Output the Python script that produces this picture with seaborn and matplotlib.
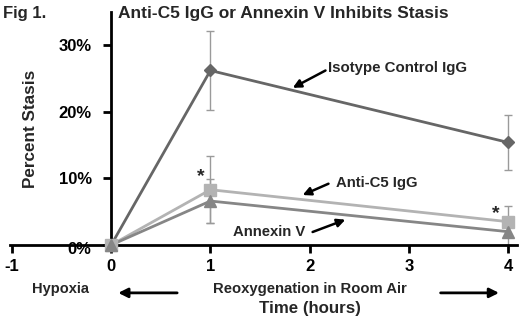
import pandas as pd
import matplotlib
matplotlib.use('Agg')
import matplotlib.pyplot as plt
import matplotlib.transforms as mtransforms
from matplotlib.patches import FancyArrowPatch
import seaborn as sns

hours = [0, 1, 4]
isotype = [0, 26.2, 15.4]
isotype_err = [0, 6.0, 4.1]
anti_c5 = [0, 8.3, 3.5]
anti_c5_err = [0, 5.0, 2.3]
annexin = [0, 6.6, 2.0]
annexin_err = [0, 3.3, 2.0]
groups = ['Isotype Control IgG', 'Anti-C5 IgG', 'Annexin V']
y_ticks = [0, 10, 20, 30]
x_ticks = [-1, 0, 1, 2, 3, 4]

sns.set_style('white')
plt.rcParams['font.family'] = ['Liberation Sans', 'DejaVu Sans']
plt.rcParams['font.weight'] = 'bold'

rows = []
for g, vals, errs in zip(groups, [isotype, anti_c5, annexin], [isotype_err, anti_c5_err, annexin_err]):
    for h, v, e in zip(hours, vals, errs):
        rows.append({'group': g, 'hours': h, 'pct': v, 'err': e})
df = pd.DataFrame(rows)

colors = {'Isotype Control IgG': '#666666', 'Anti-C5 IgG': '#b3b3b3', 'Annexin V': '#868686'}
markers = {'Isotype Control IgG': 'D', 'Anti-C5 IgG': 's', 'Annexin V': '^'}
msize = {'Isotype Control IgG': 6, 'Anti-C5 IgG': 8, 'Annexin V': 8}

fig = plt.figure(figsize=(5.2, 3.18), dpi=100)
ax = fig.add_axes([0.0192, 0.2296, 0.975, 0.733])

# error bars under the lines
for g in groups:
    d = df[df['group'] == g]
    ax.errorbar(d['hours'], d['pct'], yerr=d['err'], fmt='none', ecolor='#9a9a9a',
                elinewidth=1, capsize=3, capthick=1, zorder=1, clip_on=False)
sns.lineplot(data=df, x='hours', y='pct', hue='group', palette=colors, linewidth=2,
             legend=False, ax=ax, zorder=2, clip_on=False)
for g in groups:
    d = df[df['group'] == g]
    ax.plot(d['hours'], d['pct'], linestyle='none', marker=markers[g], markersize=msize[g],
            color=colors[g], zorder=3, clip_on=False)

ax.set_xlim(-1.02, 4.09)
ax.set_ylim(0, 35)
ax.spines['left'].set_position(('data', 0))
ax.spines['right'].set_visible(False)
ax.spines['top'].set_visible(False)
for s in ['left', 'bottom']:
    ax.spines[s].set_linewidth(2)
    ax.spines[s].set_color('black')
ax.set_xticks(x_ticks)
ax.set_xticklabels([str(t) for t in x_ticks], fontsize=12, fontweight='bold')
ax.set_yticks(y_ticks)
ax.set_yticklabels([f'{t}%' for t in y_ticks], fontsize=12, fontweight='bold')
ax.tick_params(axis='both', direction='out', length=6, width=2, colors='black', left=True, bottom=True)
ax.tick_params(axis='y', pad=8)
ax.tick_params(axis='x', pad=4)
ax.set_xlabel('')
ax.set_ylabel('')
# the 0% label sits a bit low, crossing the axis line
zero = ax.get_yticklabels()[0]
zero.set_transform(zero.get_transform() + mtransforms.ScaledTranslation(0, -2.5 / 72, fig.dpi_scale_trans))

fig.text(0.058, 0.594, 'Percent Stasis', rotation=90, ha='center', va='center', fontsize=12.3, fontweight='bold')
fig.text(0.006, 0.958, 'Fig 1.', ha='left', va='center', fontsize=12, fontweight='bold')
fig.text(0.227, 0.958, 'Anti-C5 IgG or Annexin V Inhibits Stasis', ha='left', va='center',
         fontsize=12.5, fontweight='bold')

arrow = dict(arrowstyle='-|>', color='black', lw=1.8, mutation_scale=12, shrinkA=0, shrinkB=0)
ax.text(2.19, 26.6, 'Isotype Control IgG', fontsize=10.8, fontweight='bold', ha='left', va='center')
ax.annotate('', xy=(1.83, 23.6), xytext=(2.16, 26.2), arrowprops=arrow)
ax.text(2.27, 9.3, 'Anti-C5 IgG', fontsize=10.7, fontweight='bold', ha='left', va='center')
ax.annotate('', xy=(1.93, 7.5), xytext=(2.19, 9.2), arrowprops=arrow)
ax.text(1.96, 1.95, 'Annexin V', fontsize=10.7, fontweight='bold', ha='right', va='center')
ax.annotate('', xy=(2.36, 3.8), xytext=(2.03, 1.95), arrowprops=arrow)
ax.text(0.9, 10.2, '*', fontsize=14, fontweight='bold', ha='center', va='center')
ax.text(3.88, 4.7, '*', fontsize=14, fontweight='bold', ha='center', va='center')

fig.text(0.117, 0.091, 'Hypoxia', ha='center', va='center', fontsize=10.5, fontweight='bold')
fig.text(0.5965, 0.091, 'Reoxygenation in Room Air', ha='center', va='center', fontsize=10.7, fontweight='bold')
fig.text(0.5965, 0.031, 'Time (hours)', ha='center', va='center', fontsize=12.2, fontweight='bold')
fig.add_artist(FancyArrowPatch((0.346, 0.079), (0.222, 0.079), transform=fig.transFigure,
               arrowstyle='-|>', mutation_scale=14, lw=2, color='black'))
fig.add_artist(FancyArrowPatch((0.842, 0.079), (0.965, 0.079), transform=fig.transFigure,
               arrowstyle='-|>', mutation_scale=14, lw=2, color='black'))

fig.savefig('out.png', dpi=100)
